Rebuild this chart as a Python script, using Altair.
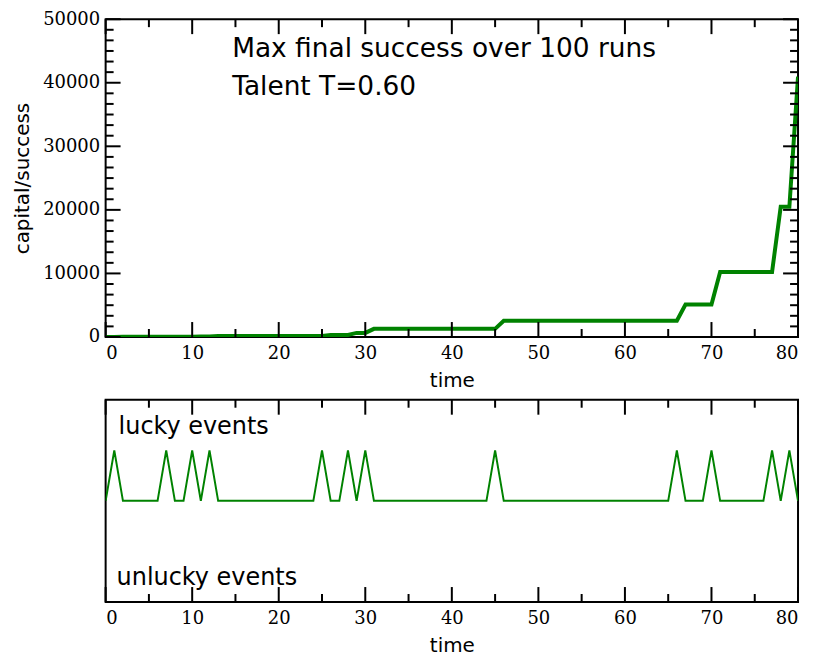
import altair as alt
import pandas as pd

GREEN = "#008200"

# time steps
time = list(range(81))

# capital/success of the most successful agent (value read at each time step)
capital = [
    10, 10, 20, 20, 20, 20, 20, 20, 40, 40,
    40, 80, 80, 160, 160, 160, 160, 160, 160, 160,
    160, 160, 160, 160, 160, 160, 320, 320, 320, 640,
    640, 1280, 1280, 1280, 1280, 1280, 1280, 1280, 1280, 1280,
    1280, 1280, 1280, 1280, 1280, 1280, 2560, 2560, 2560, 2560,
    2560, 2560, 2560, 2560, 2560, 2560, 2560, 2560, 2560, 2560,
    2560, 2560, 2560, 2560, 2560, 2560, 2560, 5120, 5120, 5120,
    5120, 10240, 10240, 10240, 10240, 10240, 10240, 10240, 20480, 20480,
    40960,
]

# lucky (+0.5) / unlucky (-0.5) event signal at each time step
events = [
    0, 0.5, 0, 0, 0, 0, 0, 0.5, 0, 0,
    0.5, 0, 0.5, 0, 0, 0, 0, 0, 0, 0,
    0, 0, 0, 0, 0, 0.5, 0, 0, 0.5, 0,
    0.5, 0, 0, 0, 0, 0, 0, 0, 0, 0,
    0, 0, 0, 0, 0, 0.5, 0, 0, 0, 0,
    0, 0, 0, 0, 0, 0, 0, 0, 0, 0,
    0, 0, 0, 0, 0, 0, 0.5, 0, 0, 0,
    0.5, 0, 0, 0, 0, 0, 0, 0.5, 0, 0.5,
    0,
]

x_major = [0, 10, 20, 30, 40, 50, 60, 70, 80]
x_minor = [5, 15, 25, 35, 45, 55, 65, 75]
y_major = [0, 10000, 20000, 30000, 40000, 50000]
y_minor = [m + k * 10000 / 6 for m in y_major[:-1] for k in range(1, 6)]

W = 695
H_TOP = 319
H_BOT = 203
MAJ = 15
MIN = 8

df_top = pd.DataFrame({"time": time, "capital": capital})
df_bot = pd.DataFrame({"time": time, "event": events})
df_xmaj = pd.DataFrame({"time": x_major})
df_xmin = pd.DataFrame({"time": x_minor})
df_ymaj = pd.DataFrame({"capital": y_major})
df_ymin = pd.DataFrame({"capital": y_minor})

x_scale = alt.Scale(domain=[0, 80], nice=False, zero=False)
y_scale_top = alt.Scale(domain=[0, 50000], nice=False)
y_scale_bot = alt.Scale(domain=[-1, 1], nice=False)

X_AXIS = alt.Axis(values=x_major, format="d", title="time", labelPadding=8,
                  titlePadding=8, ticks=False, domain=False, grid=False)
Y_AXIS = alt.Axis(values=y_major, format="d", title="capital/success",
                  labelPadding=6, titlePadding=10, ticks=False,
                  domain=False, grid=False)


def xenc():
    return alt.X("time:Q", scale=x_scale, axis=X_AXIS)


def yenc():
    return alt.Y("capital:Q", scale=y_scale_top, axis=Y_AXIS)


def x_ticks(h):
    layers = []
    for df, ln in ((df_xmaj, MAJ), (df_xmin, MIN)):
        base = alt.Chart(df).mark_rule(color="black", strokeWidth=2)
        layers.append(base.encode(x=xenc(), y=alt.value(h), y2=alt.value(h - ln)))
        layers.append(base.encode(x=xenc(), y=alt.value(0), y2=alt.value(ln)))
    return layers


def y_ticks():
    layers = []
    for df, ln in ((df_ymaj, MAJ), (df_ymin, MIN)):
        base = alt.Chart(df).mark_rule(color="black", strokeWidth=2)
        layers.append(base.encode(y=yenc(), x=alt.value(0), x2=alt.value(ln)))
        layers.append(base.encode(y=yenc(), x=alt.value(W), x2=alt.value(W - ln)))
    return layers


top_line = alt.Chart(df_top).mark_line(color=GREEN, strokeWidth=4, clip=True).encode(
    x=xenc(), y=yenc(),
)

txt_style = dict(align="left", baseline="alphabetic", font="DejaVu Sans",
                 fontSize=26.5, color="black")
t1 = alt.Chart(pd.DataFrame({"s": ["Max final success over 100 runs"]})).mark_text(**txt_style).encode(
    text="s:N", x=alt.value(127), y=alt.value(38))
t2 = alt.Chart(pd.DataFrame({"s": ["Talent T=0.60"]})).mark_text(**txt_style).encode(
    text="s:N", x=alt.value(127), y=alt.value(76))

top = alt.layer(top_line, *x_ticks(H_TOP), *y_ticks(), t1, t2).properties(width=W, height=H_TOP)

bot_line = alt.Chart(df_bot).mark_line(color=GREEN, strokeWidth=2, clip=True).encode(
    x=xenc(),
    y=alt.Y("event:Q", scale=y_scale_bot, axis=None),
)
lab_style = dict(align="left", baseline="alphabetic", font="DejaVu Sans",
                 fontSize=24, color="black")
l1 = alt.Chart(pd.DataFrame({"s": ["lucky events"]})).mark_text(**lab_style).encode(
    text="s:N", x=alt.value(13), y=alt.value(34))
l2 = alt.Chart(pd.DataFrame({"s": ["unlucky events"]})).mark_text(**lab_style).encode(
    text="s:N", x=alt.value(11), y=alt.value(186))

bottom = alt.layer(bot_line, *x_ticks(H_BOT), l1, l2).properties(width=W, height=H_BOT)

chart = alt.vconcat(top, bottom, spacing=63, bounds="flush").properties(
    padding={"left": 3, "top": 0, "right": 5, "bottom": 0}
).configure_view(
    stroke="black", strokeWidth=2
).configure_axis(
    labelFont="DejaVu Serif", labelFontSize=18, labelColor="black",
    titleFont="DejaVu Sans", titleFontSize=20, titleFontWeight="normal",
    titleColor="black"
)

chart.save("out.html", embed_options={"renderer": "svg", "actions": False})
